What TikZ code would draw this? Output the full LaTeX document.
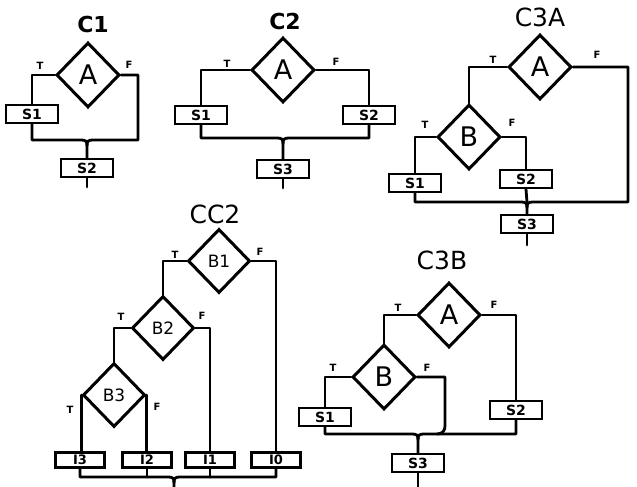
\documentclass[tikz,border=0pt]{standalone}
\usepackage{fontspec}
\setmainfont{DejaVu Sans}
\usetikzlibrary{shapes.geometric,calc}
\begin{document}
\begin{tikzpicture}[x=1pt,y=-1pt,
  ln/.style={line width=2.8pt, line join=round, line cap=round},
  dec/.style={diamond, draw, line width=3pt, inner sep=0pt, minimum width=63pt, minimum height=65pt, font=\fontsize{27}{27}\selectfont},
  decs/.style={dec, minimum width=62pt, minimum height=64pt, font=\fontsize{17}{17}\selectfont},
  box/.style={rectangle, draw, line width=2.6pt, inner sep=0pt, minimum width=52pt, minimum height=18pt, font=\bfseries\fontsize{14}{14}\selectfont},
  ibox/.style={box, minimum width=49pt, minimum height=15pt, font=\bfseries\fontsize{13}{13}\selectfont},
  tf/.style={font=\bfseries\fontsize{10}{10}\selectfont, inner sep=0pt},
  ttl/.style={font=\fontsize{25}{25}\selectfont, inner sep=0pt},
  ttlb/.style={font=\bfseries\fontsize{22}{22}\selectfont, inner sep=0pt}]
\useasboundingbox[fill=white] (0,0) rectangle (637,487);

% ---------- C1 ----------
\node[ttlb] (c1t) at (93,24) {C1};
\node[dec] (A1) at (88,75) {A};
\node[box] (S1a) at (32,114) {S1};
\node[box] (S2a) at (87,168) {S2};
\coordinate (j1) at (87,140);
\coordinate (r1) at (138,140);
\coordinate (e1) at (87,187);
\node[tf] (T1) at (40,66) {T};
\node[tf] (F1) at (129,65) {F};
\draw[ln] (A1.west) -| (S1a.north);
\draw[ln] (S1a.south) |- ($(j1)+(-6,0)$) .. controls ($(j1)+(-1,0)$) and ($(j1)+(0,1)$) .. ($(j1)+(0,6)$) -- (S2a.north);
\draw[ln] (A1.east) -| (r1) -- ($(j1)+(6,0)$) .. controls ($(j1)+(1,0)$) and ($(j1)+(0,1)$) .. ($(j1)+(0,6)$);
\draw[ln] (S2a.south) -- (e1);

% ---------- C2 ----------
\node[ttlb] (c2t) at (285,21) {C2};
\node[dec] (A2) at (283,70) {A};
\node[box] (S1b) at (201,115) {S1};
\node[box] (S2b) at (369,115) {S2};
\node[box] (S3b) at (283,169) {S3};
\coordinate (j2) at (283,138);
\coordinate (e2) at (283,188);
\node[tf] (T2) at (227,64) {T};
\node[tf] (F2) at (336,62) {F};
\draw[ln] (A2.west) -| (S1b.north);
\draw[ln] (A2.east) -| (S2b.north);
\draw[ln] (S1b.south) |- ($(j2)+(-6,0)$) .. controls ($(j2)+(-1,0)$) and ($(j2)+(0,1)$) .. ($(j2)+(0,6)$) -- (S3b.north);
\draw[ln] (S2b.south) |- ($(j2)+(6,0)$) .. controls ($(j2)+(1,0)$) and ($(j2)+(0,1)$) .. ($(j2)+(0,6)$);
\draw[ln] (S3b.south) -- (e2);

% ---------- C3A ----------
\node[ttl] (c3at) at (540,17) {C3A};
\node[dec] (A3) at (540,67) {A};
\node[dec] (B3a) at (469,137) {B};
\node[box] (S1c) at (415,183) {S1};
\node[box] (S2c) at (526,179) {S2};
\node[box] (S3c) at (527,224) {S3};
\coordinate (j3) at (527,202);
\coordinate (r3) at (628,202);
\coordinate (e3) at (527,245);
\node[tf] (T3) at (493,60) {T};
\node[tf] (F3) at (597,55) {F};
\node[tf] (T3b) at (425,125) {T};
\node[tf] (F3b) at (512,123) {F};
\draw[ln] (A3.west) -| (B3a.north);
\draw[ln] (B3a.west) -| (S1c.north);
\draw[ln] (B3a.east) -| (S2c.north);
\draw[ln] (A3.east) -| (r3) -- ($(j3)+(6,0)$) .. controls ($(j3)+(1,0)$) and ($(j3)+(0,1)$) .. ($(j3)+(0,6)$);
\draw[ln] (S1c.south) |- ($(j3)+(-6,0)$) .. controls ($(j3)+(-1,0)$) and ($(j3)+(0,1)$) .. ($(j3)+(0,6)$) -- (S3c.north);
\draw[ln] (S2c.south) -- (j3);
\draw[ln] (S3c.south) -- (e3);

% ---------- CC2 ----------
\node[ttl] (cc2t) at (215,214) {CC2};
\node[decs] (B1) at (219,261) {B1};
\node[decs] (B2) at (163,328) {B2};
\node[decs] (B3) at (114,395) {B3};
\node[ibox] (I3) at (80,460) {I3};
\node[ibox] (I2) at (147,460) {I2};
\node[ibox] (I1) at (210,460) {I1};
\node[ibox] (I0) at (276,460) {I0};
\coordinate (j4) at (174,477);
\coordinate (e4) at (174,487);
\node[tf] (T4a) at (175,255) {T};
\node[tf] (F4a) at (260,252) {F};
\node[tf] (T4b) at (121,317) {T};
\node[tf] (F4b) at (202,316) {F};
\node[tf] (T4c) at (70,410) {T};
\node[tf] (F4c) at (157,407) {F};
\draw[ln] (B1.west) -| (B2.north);
\draw[ln] (B2.west) -| (B3.north);
\draw[ln] (B3.west) -- (B3.west |- I3.north);
\draw[ln] (B3.east) -- (B3.east |- I2.north);
\draw[ln] (B2.east) -| (I1.north);
\draw[ln] (B1.east) -| (I0.north);
\draw[ln] (I3.south) |- ($(j4)+(-6,0)$) .. controls ($(j4)+(-1,0)$) and ($(j4)+(0,1)$) .. ($(j4)+(0,6)$) -- (e4);
\draw[ln] (I0.south) |- ($(j4)+(6,0)$) .. controls ($(j4)+(1,0)$) and ($(j4)+(0,1)$) .. ($(j4)+(0,6)$);
\draw[ln] (I2.south) -- (I2.south |- j4);
\draw[ln] (I1.south) -- (I1.south |- j4);

% ---------- C3B ----------
\node[ttl] (c3bt) at (442,260) {C3B};
\node[dec] (A5) at (449,315) {A};
\node[dec] (B5) at (384,377) {B};
\node[box] (S1e) at (325,417) {S1};
\node[box] (S2e) at (516,410) {S2};
\node[box] (S3e) at (418,463) {S3};
\coordinate (j5) at (418,434);
\coordinate (e5) at (418,487);
\coordinate (k5) at (445,426);
\coordinate (m5) at (437,434);
\node[tf] (T5a) at (398,308) {T};
\node[tf] (F5a) at (494,305) {F};
\node[tf] (T5b) at (333,368) {T};
\node[tf] (F5b) at (427,368) {F};
\draw[ln] (A5.west) -| (B5.north);
\draw[ln] (B5.west) -| (S1e.north);
\draw[ln] (A5.east) -| (S2e.north);
\draw[ln] (B5.east) -| (k5) .. controls (445,431) and (442,434) .. (m5);
\draw[ln] (S1e.south) |- ($(j5)+(-6,0)$) .. controls ($(j5)+(-1,0)$) and ($(j5)+(0,1)$) .. ($(j5)+(0,6)$) -- (S3e.north);
\draw[ln] (S2e.south) |- ($(j5)+(6,0)$) .. controls ($(j5)+(1,0)$) and ($(j5)+(0,1)$) .. ($(j5)+(0,6)$);
\draw[ln] (S3e.south) -- (e5);
\end{tikzpicture}
\end{document}
